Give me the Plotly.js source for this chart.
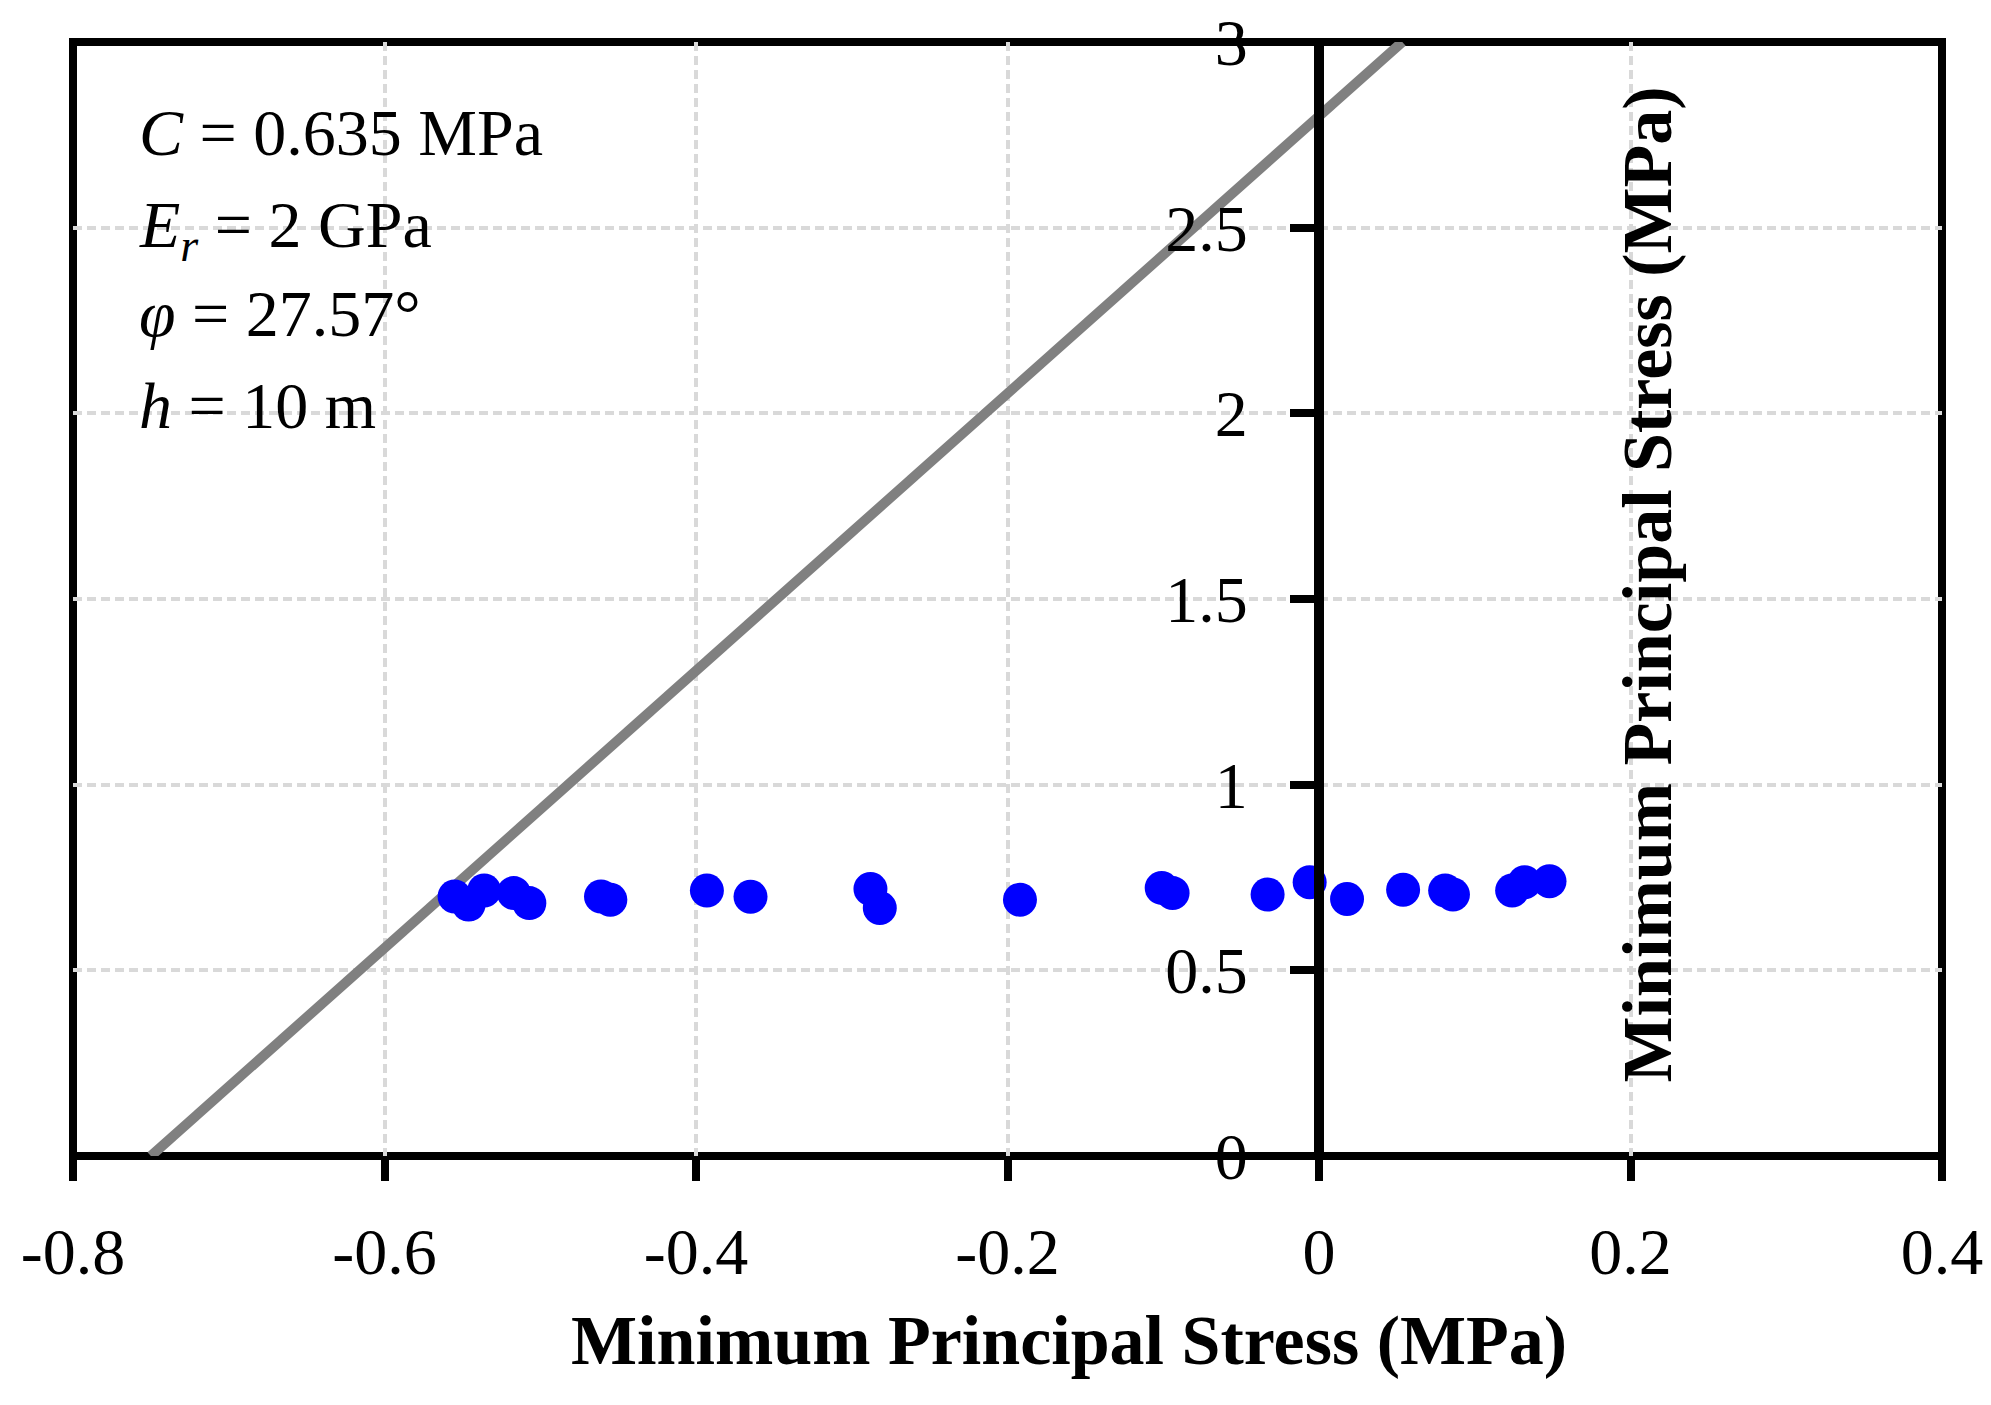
<!DOCTYPE html>
<html>
<head>
<meta charset="utf-8">
<script src="https://cdn.plot.ly/plotly-3.0.1.min.js"></script>
<style>
  html, body { margin: 0; padding: 0; background: #fff; }
  #myDiv { width: 1991px; height: 1405px; }
</style>
</head>
<body>
<div id="myDiv"></div>
<script>
// failure envelope (grey line), end points
const lineX = [-0.75, 0.0535];
const lineY = [0, 3];

// stress points (blue dots)
const pointsX = [-0.555, -0.546, -0.536, -0.517, -0.507, -0.461, -0.455, -0.393, -0.365,
                 -0.288, -0.282, -0.192, -0.101, -0.094, -0.033, -0.006, 0.018, 0.054,
                 0.081, 0.086, 0.124, 0.132, 0.148];
const pointsY = [0.699, 0.677, 0.715, 0.708, 0.681, 0.699, 0.690, 0.715, 0.698,
                 0.719, 0.668, 0.690, 0.722, 0.708, 0.704, 0.737, 0.692, 0.717,
                 0.715, 0.704, 0.715, 0.737, 0.740];

const xTicks = [-0.8, -0.6, -0.4, -0.2, 0, 0.2, 0.4];
const xTickText = ['-0.8', '-0.6', '-0.4', '-0.2', '0', '0.2', '0.4'];
const yTicks = [0, 0.5, 1, 1.5, 2, 2.5, 3];
const yTickText = ['0', '0.5', '1', '1.5', '2', '2.5', '3'];

const infoLines = [
  '<i>C</i> = 0.635 MPa',
  '<i>E<sub>r</sub></i> = 2 GPa',
  '<i>φ</i> = 27.57°',
  '<i>h</i> = 10 m'
];
const infoTops = [0.953, 0.8706, 0.7907, 0.7082];
const axisTitle = 'Minimum Principal Stress (MPa)';

const serif = 'Liberation Serif, Times New Roman, serif';

var envelope = {
  x: lineX,
  y: lineY,
  type: 'scatter',
  mode: 'lines',
  line: { color: '#808080', width: 10 },
  hoverinfo: 'skip'
};

var stress = {
  x: pointsX,
  y: pointsY,
  type: 'scatter',
  mode: 'markers',
  marker: { color: '#0000ff', size: 34, line: { width: 0 } }
};

var grid = { showgrid: true, gridcolor: '#d9d9d9', gridwidth: 4, griddash: '9px,5px' };

var notes = infoLines.map((t, i) => ({
  xref: 'paper', yref: 'paper', x: 0.034, y: infoTops[i],
  xanchor: 'left', yanchor: 'top', align: 'left', showarrow: false, text: t,
  font: { family: serif, size: 66, color: '#000' }
}));

notes.push(
  { xref: 'paper', yref: 'paper', x: 0.533, y: -0.166, xanchor: 'center', yanchor: 'middle',
    showarrow: false, text: axisTitle,
    font: { family: serif, size: 70, color: '#000', weight: 'bold' } },
  { xref: 'x', yref: 'y', x: 0.2108, y: 1.54, xanchor: 'center', yanchor: 'middle',
    textangle: -90, showarrow: false, text: axisTitle,
    font: { family: serif, size: 70, color: '#000', weight: 'bold' } }
);

var layout = {
  width: 1991,
  height: 1405,
  margin: { l: 73, r: 49, t: 42, b: 249 },
  paper_bgcolor: '#fff',
  plot_bgcolor: '#fff',
  showlegend: false,
  xaxis: Object.assign({
    range: [-0.8, 0.4],
    tickvals: xTicks,
    ticktext: xTickText,
    ticks: 'outside',
    ticklen: 24,
    tickwidth: 8,
    tickcolor: '#000',
    ticklabelstandoff: 14,
    tickfont: { family: serif, size: 66, color: '#000' },
    zeroline: false,
    showline: false
  }, grid),
  yaxis: Object.assign({
    range: [0, 3],
    anchor: 'free',
    position: 0.8 / 1.2,
    tickvals: yTicks,
    ticktext: yTickText,
    ticks: 'outside',
    ticklen: 24,
    tickwidth: 8,
    tickcolor: '#000',
    ticklabelstandoff: 29,
    tickfont: { family: serif, size: 66, color: '#000' },
    zeroline: false,
    showline: true,
    linecolor: '#000',
    linewidth: 10
  }, grid),
  shapes: [
    { type: 'rect', xref: 'paper', yref: 'paper', x0: 0, x1: 1, y0: 0, y1: 1,
      line: { color: '#000', width: 8 }, layer: 'between' }
  ],
  annotations: notes
};

Plotly.newPlot('myDiv', [envelope, stress], layout, { staticPlot: true });
</script>
</body>
</html>
